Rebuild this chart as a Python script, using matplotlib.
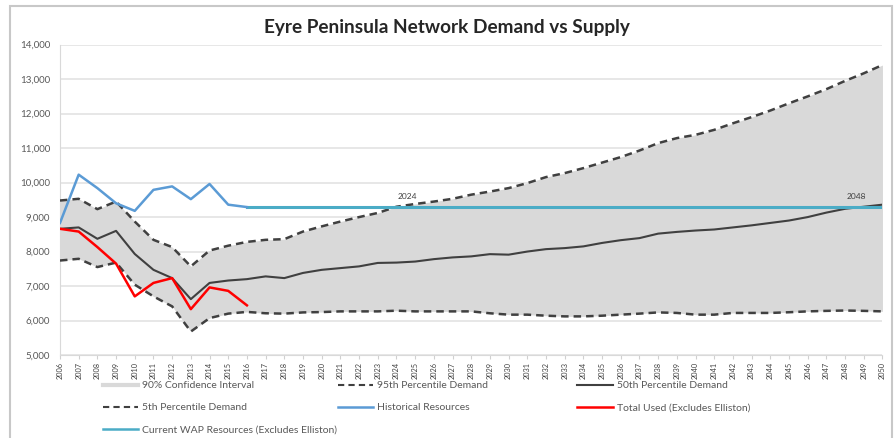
import matplotlib
matplotlib.use('Agg')
import matplotlib.pyplot as plt
from matplotlib.patches import Rectangle
from matplotlib.lines import Line2D

plt.rcParams['font.family'] = ['Lato', 'DejaVu Sans']

# 年份 2006-2050
years = list(range(2006, 2051))

p95 = [9480, 9530, 9230, 9450, 8870, 8340, 8130, 7570, 8030, 8170,
       8280, 8340, 8360, 8580, 8730, 8870, 9000, 9120, 9300, 9380,
       9450, 9530, 9650, 9740, 9840, 9985, 10160, 10275, 10420, 10580,
       10740, 10930, 11145, 11290, 11385, 11530, 11720, 11900, 12090, 12300,
       12500, 12710, 12950, 13170, 13410]

p50 = [8660, 8700, 8370, 8600, 7930, 7470, 7230, 6620, 7090, 7160,
       7200, 7280, 7230, 7380, 7470, 7520, 7570, 7670, 7680, 7710,
       7780, 7830, 7860, 7925, 7910, 8000, 8070, 8100, 8150, 8250,
       8330, 8390, 8520, 8570, 8610, 8640, 8700, 8760, 8830, 8900,
       9000, 9130, 9240, 9300, 9360]

p5 = [7740, 7790, 7550, 7680, 7040, 6700, 6410, 5680, 6070, 6200,
      6250, 6210, 6200, 6235, 6245, 6265, 6265, 6265, 6285, 6265,
      6265, 6265, 6265, 6210, 6170, 6170, 6140, 6120, 6120, 6140,
      6170, 6200, 6235, 6220, 6170, 6170, 6220, 6220, 6220, 6240,
      6265, 6280, 6290, 6280, 6265]

hist_years = list(range(2006, 2017))
hist_res = [8830, 10230, 9840, 9400, 9180, 9790, 9890, 9520, 9960, 9360, 9290]

used_years = list(range(2006, 2017))
total_used = [8660, 8580, 8130, 7650, 6700, 7090, 7230, 6330, 6960, 6860, 6440]

wap_years = list(range(2016, 2051))
wap_res = [9290] * len(wap_years)

notes = [(2024, '2024'), (2048, '2048')]

GREY = '#404040'
DASH = (0, (3, 2))

fig = plt.figure(figsize=(8.94, 4.38), dpi=100)
ax = fig.add_axes([0.0671, 0.1895, 0.92, 0.7085])

# 外框
fig.patches.append(Rectangle((10 / 894, -0.05), 882 / 894, 1.05 - 6 / 438,
                             transform=fig.transFigure, fill=False,
                             edgecolor='#c8c8c8', linewidth=1.5))

ax.fill_between(years, p5, p95, color='#d9d9d9', linewidth=0, zorder=1)
ax.plot(years, p95, color=GREY, linestyle=DASH, linewidth=1.8, zorder=3)
ax.plot(years, p5, color=GREY, linestyle=DASH, linewidth=1.8, zorder=3)
ax.plot(years, p50, color=GREY, linewidth=1.5, zorder=3)
ax.plot(wap_years, wap_res, color='#4bacc6', linewidth=2.2, zorder=4)
ax.plot(hist_years, hist_res, color='#5b9bd5', linewidth=1.8, zorder=5)
ax.plot(used_years, total_used, color='#ff0000', linewidth=1.8, zorder=5)

for yr, label in notes:
    ax.annotate(label, (yr, wap_res[0]), xytext=(8, 6), textcoords='offset points',
                ha='center', fontsize=6, color=GREY)

ax.set_xlim(2006, 2050)
ax.set_ylim(5000, 14000)
ax.set_yticks(range(5000, 14001, 1000))
ax.set_yticklabels([f'{v:,}' for v in range(5000, 14001, 1000)])
ax.set_xticks(years)
ax.set_xticklabels([str(y) for y in years], rotation=90)
ax.tick_params(axis='y', length=0, labelsize=7, labelcolor='#595959', pad=7)
ax.tick_params(axis='x', length=3, color='#d0d0d0', labelsize=5.3, labelcolor=GREY, pad=2)
ax.grid(axis='y', color='#e3e3e3', linewidth=1.2, zorder=0)
ax.set_axisbelow(True)
for s in ['top', 'right']:
    ax.spines[s].set_visible(False)
ax.spines['left'].set_color('#d9d9d9')
ax.spines['bottom'].set_color('#d9d9d9')

fig.text(0.5, 0.938, 'Eyre Peninsula Network Demand vs Supply', ha='center', va='center',
         fontsize=13.7, fontweight='bold', color='#262626')

# 图例分三列放置
columns = [
    (0.109, [(Line2D([], [], color='#d9d9d9', linewidth=3), '90% Confidence Interval'),
             (Line2D([], [], color=GREY, linestyle=DASH, linewidth=1.5), '5th Percentile Demand'),
             (Line2D([], [], color='#4bacc6', linewidth=1.8), 'Current WAP Resources (Excludes Elliston)')]),
    (0.372, [(Line2D([], [], color=GREY, linestyle=DASH, linewidth=1.5), '95th Percentile Demand'),
             (Line2D([], [], color='#5b9bd5', linewidth=1.8), 'Historical Resources')]),
    (0.640, [(Line2D([], [], color=GREY, linewidth=1.5), '50th Percentile Demand'),
             (Line2D([], [], color='#ff0000', linewidth=1.8), 'Total Used (Excludes Elliston)')]),
]
for x0, items in columns:
    leg = fig.legend([h for h, _ in items], [l for _, l in items], loc='upper left',
                     bbox_to_anchor=(x0, 0.142), frameon=False, fontsize=7.5,
                     handlelength=3.4, labelspacing=1.22, handletextpad=0.4, borderpad=0)
    for t in leg.get_texts():
        t.set_color('#595959')

fig.savefig('out.png', dpi=100)
